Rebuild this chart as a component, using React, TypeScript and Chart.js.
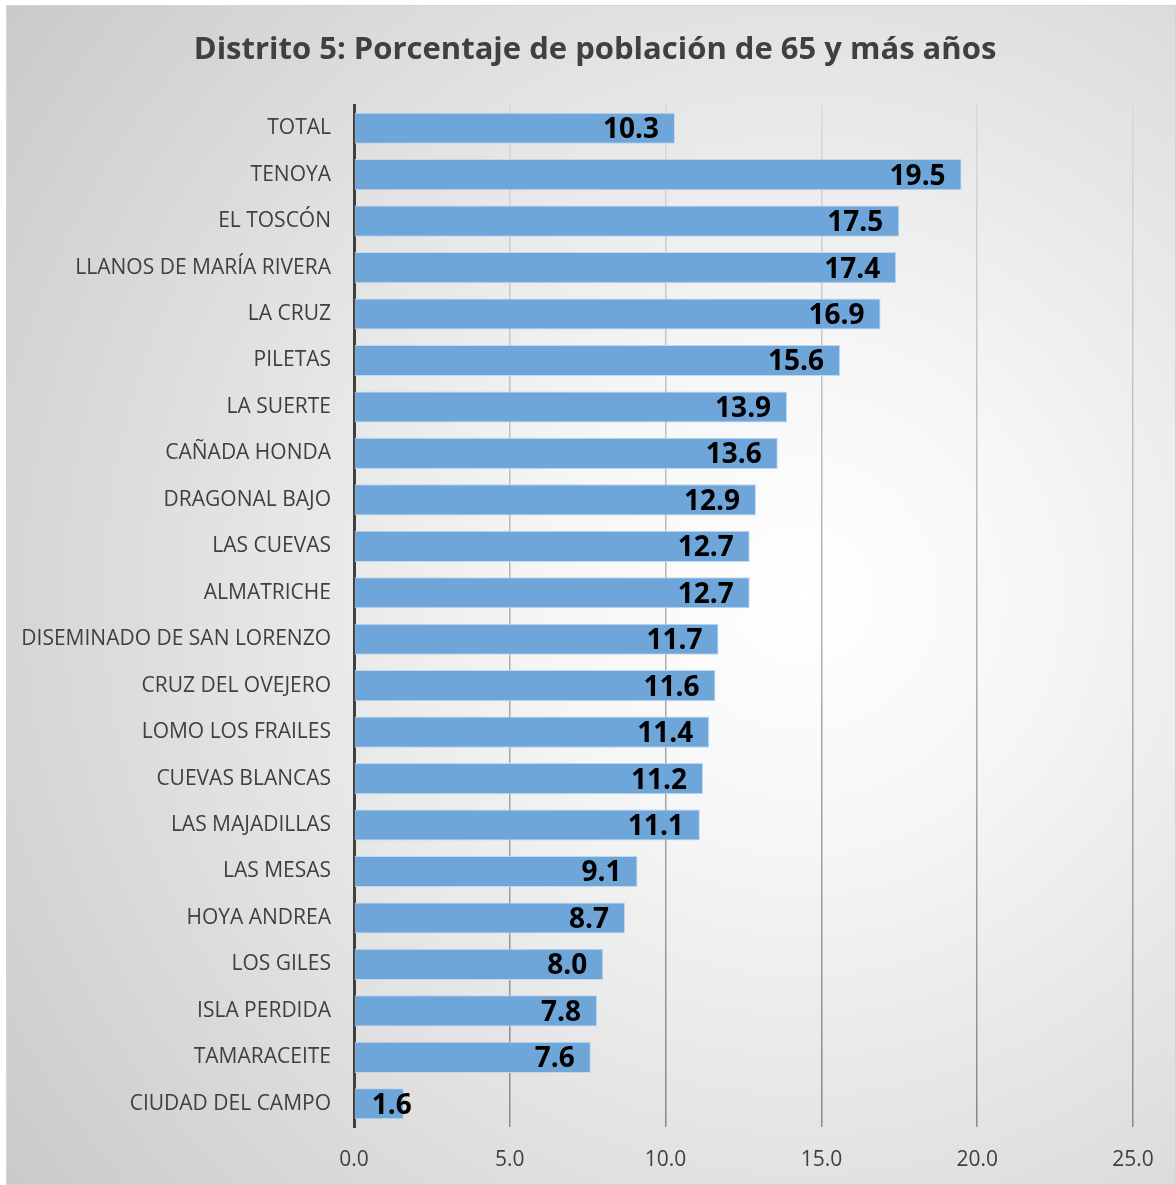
import React, { useEffect, useRef } from "react";
import { Chart, registerables } from "chart.js";

Chart.register(...registerables);

const titleText = "Distrito 5: Porcentaje de población de 65 y más años";

const categories = [
  "TOTAL",
  "TENOYA",
  "EL TOSCÓN",
  "LLANOS DE MARÍA RIVERA",
  "LA CRUZ",
  "PILETAS",
  "LA SUERTE",
  "CAÑADA HONDA",
  "DRAGONAL BAJO",
  "LAS CUEVAS",
  "ALMATRICHE",
  "DISEMINADO DE SAN LORENZO",
  "CRUZ DEL OVEJERO",
  "LOMO LOS FRAILES",
  "CUEVAS BLANCAS",
  "LAS MAJADILLAS",
  "LAS MESAS",
  "HOYA ANDREA",
  "LOS GILES",
  "ISLA PERDIDA",
  "TAMARACEITE",
  "CIUDAD DEL CAMPO",
];

const values = [
  10.3, 19.5, 17.5, 17.4, 16.9, 15.6, 13.9, 13.6, 12.9, 12.7, 12.7, 11.7, 11.6,
  11.4, 11.2, 11.1, 9.1, 8.7, 8.0, 7.8, 7.6, 1.6,
];

const xMin = 0;
const xMax = 25;
const xStep = 5;

const FONT = "'Open Sans', 'Liberation Sans', sans-serif";

const backgroundPlugin = {
  id: "bgPlugin",
  beforeDraw(chart: any) {
    const { ctx, width, height } = chart;
    ctx.save();
    const g = ctx.createRadialGradient(
      width * 0.68,
      height * 0.5,
      0,
      width * 0.68,
      height * 0.5,
      Math.max(width, height) * 0.85
    );
    g.addColorStop(0, "#ffffff");
    g.addColorStop(0.25, "#f6f6f6");
    g.addColorStop(1, "#c9c9c9");
    ctx.fillStyle = g;
    ctx.fillRect(0, 0, width, height);
    ctx.strokeStyle = "#d4d4d4";
    ctx.lineWidth = 1;
    ctx.strokeRect(0.5, 0.5, width - 1, height - 1);
    // title
    ctx.font = `bold 31px ${FONT}`;
    ctx.fillStyle = "#404040";
    ctx.textAlign = "center";
    ctx.textBaseline = "middle";
    ctx.fillText(titleText, width / 2 + 4, 45);
    ctx.restore();
  },
};

const labelPlugin = {
  id: "barLabels",
  afterDatasetsDraw(chart: any) {
    const { ctx } = chart;
    const meta = chart.getDatasetMeta(0);
    ctx.save();
    ctx.font = `bold 28px ${FONT}`;
    ctx.fillStyle = "#000000";
    ctx.textAlign = "right";
    ctx.textBaseline = "middle";
    meta.data.forEach((bar: any, i: number) => {
      const txt = values[i].toFixed(1);
      const w = ctx.measureText(txt).width;
      const right = Math.max(bar.x - 16, bar.base + 17 + w);
      ctx.fillText(txt, right, bar.y + 2);
    });
    ctx.restore();
  },
};

export default function App() {
  const canvasRef = useRef<HTMLCanvasElement | null>(null);

  useEffect(() => {
    document.body.style.overflow = "hidden";
    const canvas = canvasRef.current;
    if (!canvas) return;
    const chart = new Chart(canvas, {
      type: "bar",
      data: {
        labels: categories,
        datasets: [
          {
            data: values,
            backgroundColor: "#6FA6DA",
            borderColor: "rgba(190,215,238,0.95)",
            borderWidth: 1,
            borderSkipped: false,
            barPercentage: 0.67,
            categoryPercentage: 1,
          },
        ],
      },
      options: {
        indexAxis: "y",
        animation: false,
        responsive: false,
        maintainAspectRatio: false,
        layout: { padding: { left: 0, right: 43, top: 100, bottom: 14 } },
        plugins: {
          legend: { display: false },
          tooltip: { enabled: false },
          title: { display: false },
        },
        scales: {
          x: {
            min: xMin,
            max: xMax,
            afterFit: (scale: any) => {
              scale.height = 44;
            },
            ticks: {
              stepSize: xStep,
              color: "#404040",
              font: { family: FONT, size: 21 },
              padding: 20,
              callback: (v: any) => Number(v).toFixed(1),
            },
            grid: {
              drawTicks: false,
              lineWidth: 1.5,
              color: (c: any) => {
                const ch = c.chart;
                const area = ch.chartArea;
                if (!area) return "#b0b0b0";
                const g = ch.ctx.createLinearGradient(0, area.top, 0, area.bottom);
                g.addColorStop(0, "#d8d8d8");
                g.addColorStop(1, "#8a8a8a");
                return g;
              },
            },
            border: { display: false },
          },
          y: {
            afterFit: (scale: any) => {
              scale.width = 348;
            },
            ticks: {
              color: "#404040",
              font: { family: FONT, size: 21 },
              padding: 23,
              autoSkip: false,
            },
            grid: { display: false, drawTicks: false },
            border: { display: true, color: "#404040", width: 3 },
          },
        },
      },
      plugins: [backgroundPlugin, labelPlugin],
    } as any);
    return () => chart.destroy();
  }, []);

  return (
    <div style={{ position: "absolute", left: 6, top: 5, width: 1170, height: 1180 }}>
      <canvas ref={canvasRef} width={1170} height={1180} style={{ display: "block" }} />
    </div>
  );
}
